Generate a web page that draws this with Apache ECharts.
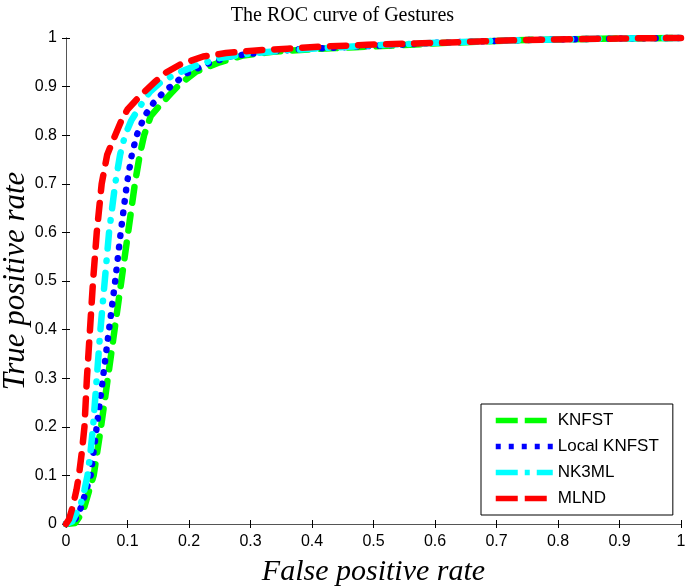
<!DOCTYPE html>
<html>
<head>
<meta charset="utf-8">
<script src="https://cdn.jsdelivr.net/npm/echarts@6/dist/echarts.min.js"></script>
<style>html,body{margin:0;padding:0;background:#fff;}#c{width:685px;height:587px;}</style>
</head>
<body>
<div id="c"></div>
<script>
// ---- data (false positive rate, true positive rate) ----
var seriesNames = ['KNFST', 'Local KNFST', 'NK3ML', 'MLND'];
var tickLabels = ['0', '0.1', '0.2', '0.3', '0.4', '0.5', '0.6', '0.7', '0.8', '0.9', '1'];

var knfst = [[0,0],[0.015,0.002],[0.022,0.015],[0.03,0.036],[0.038,0.07],[0.045,0.1],[0.051,0.15],[0.057,0.2],[0.068,0.3],[0.079,0.4],[0.09,0.5],[0.101,0.6],[0.112,0.7],[0.12,0.76],[0.127,0.8],[0.138,0.84],[0.153,0.862],[0.17,0.885],[0.185,0.905],[0.212,0.931],[0.25,0.95],[0.288,0.964],[0.34,0.972],[0.4,0.977],[0.47,0.981],[0.54,0.985],[0.62,0.99],[0.75,0.996],[0.9,0.999],[1,1]];
var localKnfst = [[0,0],[0.012,0.004],[0.019,0.018],[0.025,0.036],[0.033,0.07],[0.04,0.1],[0.045,0.15],[0.05,0.2],[0.06,0.3],[0.07,0.4],[0.08,0.5],[0.089,0.6],[0.099,0.7],[0.107,0.76],[0.115,0.8],[0.128,0.84],[0.142,0.866],[0.16,0.89],[0.175,0.905],[0.196,0.927],[0.23,0.947],[0.267,0.962],[0.32,0.971],[0.38,0.977],[0.45,0.981],[0.52,0.985],[0.6,0.99],[0.75,0.996],[0.9,0.999],[1,1]];
var nk3ml = [[0,0],[0.01,0.005],[0.016,0.02],[0.023,0.036],[0.03,0.07],[0.035,0.1],[0.04,0.15],[0.044,0.2],[0.05,0.3],[0.056,0.4],[0.063,0.5],[0.07,0.6],[0.08,0.7],[0.088,0.76],[0.096,0.8],[0.106,0.83],[0.12,0.859],[0.137,0.89],[0.155,0.91],[0.18,0.927],[0.215,0.945],[0.25,0.959],[0.3,0.968],[0.36,0.975],[0.43,0.98],[0.5,0.985],[0.6,0.99],[0.75,0.996],[0.9,0.999],[1,1]];
var mlnd = [[0,0],[0.005,0.01],[0.011,0.036],[0.017,0.07],[0.021,0.1],[0.026,0.15],[0.03,0.2],[0.034,0.3],[0.039,0.4],[0.044,0.5],[0.05,0.6],[0.058,0.7],[0.067,0.76],[0.08,0.8],[0.09,0.83],[0.1,0.853],[0.122,0.883],[0.145,0.91],[0.16,0.927],[0.185,0.945],[0.223,0.962],[0.26,0.969],[0.304,0.974],[0.36,0.978],[0.413,0.982],[0.49,0.986],[0.6,0.99],[0.75,0.996],[0.9,0.999],[1,1]];

var seriesData = [knfst, localKnfst, nk3ml, mlnd];
var colors = ['#00ff00', '#0000ff', '#00ffff', '#ff0000'];
var dashes = [[16, 12], [0.5, 11], [16, 12, 0.5, 12], [16, 12]];
var legendDashes = [[22, 7], [5, 8], [22, 7, 5, 7], [22, 7]];

var chart = echarts.init(document.getElementById('c'), null, {renderer: 'canvas'});
function fmt(v) { return tickLabels[Math.round(v * 10)]; }
var axisLine = {show: true, lineStyle: {color: '#555', width: 1}};
var axisTick = {show: true, inside: true, length: 4, lineStyle: {color: '#000', width: 1}};
var labelFont = {fontFamily: 'Liberation Sans', fontSize: 16, color: '#000'};
var nameFont = {fontFamily: 'Liberation Serif', fontStyle: 'italic', fontSize: 30, color: '#000'};
var yNameFont = {fontFamily: 'Liberation Serif', fontStyle: 'italic', fontSize: 31, color: '#000'};

var option = {
  animation: false,
  backgroundColor: '#fff',
  title: {
    text: 'The ROC curve of Gestures',
    left: 'center', top: 1,
    textStyle: {fontFamily: 'Liberation Serif', fontSize: 20, fontWeight: 'normal', color: '#000'}
  },
  grid: {left: 66, right: 4, top: 38, bottom: 63, containLabel: false, outerBoundsMode: 'none'},
  legend: {
    show: true,
    orient: 'vertical',
    left: 481, top: 404,
    padding: [8, 14, 8, 12],
    itemGap: 9,
    itemWidth: 57,
    itemHeight: 15,
    backgroundColor: '#fff',
    borderColor: '#000',
    borderWidth: 1,
    textStyle: {fontFamily: 'Liberation Sans', fontSize: 17, color: '#000'},
    data: seriesNames.map(function (n, i) {
      return {
        name: n,
        itemStyle: {opacity: 0},
        lineStyle: {color: colors[i], width: 5.5, type: legendDashes[i], cap: 'butt', opacity: 1}
      };
    })
  },
  xAxis: [{
    type: 'value', min: 0, max: 1, interval: 0.1,
    name: 'False positive rate', nameLocation: 'middle', nameGap: 33, nameMoveOverlap: false,
    nameTextStyle: nameFont,
    axisLine: axisLine, axisTick: axisTick, splitLine: {show: false},
    axisLabel: Object.assign({margin: 10, formatter: fmt}, labelFont)
  }, {
    type: 'value', min: 0, max: 1, interval: 0.1, position: 'top',
    axisLine: axisLine, axisTick: axisTick, splitLine: {show: false}, axisLabel: {show: false}
  }],
  yAxis: [{
    type: 'value', min: 0, max: 1, interval: 0.1,
    name: 'True positive rate', nameLocation: 'middle', nameGap: 35, nameMoveOverlap: false,
    nameTextStyle: yNameFont,
    axisLine: axisLine, axisTick: axisTick, splitLine: {show: false},
    axisLabel: Object.assign({margin: 9, formatter: fmt}, labelFont)
  }, {
    type: 'value', min: 0, max: 1, interval: 0.1, position: 'right',
    axisLine: axisLine, axisTick: axisTick, splitLine: {show: false}, axisLabel: {show: false}
  }],
  series: seriesNames.map(function (n, i) {
    return {
      name: n, type: 'line', data: seriesData[i],
      showSymbol: false, symbol: 'none', smooth: false, clip: false,
      lineStyle: {color: colors[i], width: 6.5, type: dashes[i], cap: 'round', join: 'round'},
      itemStyle: {color: colors[i]},
      z: 2 + i
    };
  })
};
chart.setOption(option);
</script>
</body>
</html>
